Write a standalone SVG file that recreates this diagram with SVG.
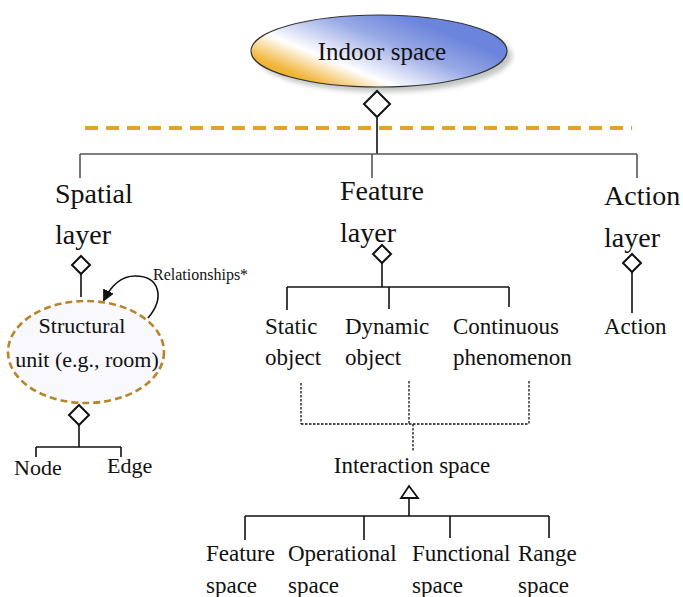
<svg xmlns="http://www.w3.org/2000/svg" width="683" height="597" viewBox="0 0 683 597">
<style>
  text { font-family: "Liberation Serif", "DejaVu Serif", "Times New Roman", serif; fill: #111; }
  .t28 { font-size: 28px; }
  .t23 { font-size: 23px; }
  .t22 { font-size: 22px; }
  .line { stroke: #111; stroke-width: 1.6; fill: none; }
  .gline { stroke: #555; stroke-width: 1.6; fill: none; }
  .dot { stroke: #111; stroke-width: 1.3; fill: none; stroke-dasharray: 2.5 1.5; }
  .dia { fill: #fff; stroke: #111; stroke-width: 2; }
</style>
<defs>
  <linearGradient id="topGrad" gradientUnits="userSpaceOnUse" x1="313" y1="101" x2="364" y2="-23">
    <stop offset="0" stop-color="#eda51f"/>
    <stop offset="0.14" stop-color="#f2b73e"/>
    <stop offset="0.33" stop-color="#ffffff"/>
    <stop offset="0.62" stop-color="#9aaae6"/>
    <stop offset="0.85" stop-color="#6b84dc"/>
    <stop offset="1" stop-color="#6b84dc"/>
  </linearGradient>
  <filter id="shadow" x="-20%" y="-30%" width="140%" height="170%">
    <feGaussianBlur stdDeviation="2.5"/>
  </filter>
  <marker id="arrowFill" markerWidth="12" markerHeight="12" refX="10" refY="6" orient="auto" markerUnits="userSpaceOnUse">
    <path d="M0,0 L12,6 L0,12 Z" fill="#111"/>
  </marker>
</defs>

<!-- top node -->
<g id="indoor-space">
  <ellipse cx="384" cy="56" rx="128" ry="36" fill="#9aa09a" opacity="0.6" filter="url(#shadow)"/>
  <ellipse cx="379" cy="51" rx="128" ry="36" fill="url(#topGrad)" stroke="#333" stroke-width="1.2"/>
  <text x="382" y="60" style="font-size:25px" text-anchor="middle">Indoor space</text>
</g>

<!-- dashed separator -->
<line x1="85" y1="128" x2="632" y2="128" stroke="#e3a32a" stroke-width="4" stroke-dasharray="13 8"/>

<g id="connectors">
  <line class="line" x1="377" y1="118" x2="377" y2="154"/>
  <polygon class="dia" points="377,91 390,104 377,117 364,104"/>
  <line class="gline" x1="80" y1="154" x2="637" y2="154"/>
  <line class="gline" x1="80" y1="154" x2="80" y2="178"/>
  <line class="gline" x1="372" y1="154" x2="372" y2="178"/>
  <line class="gline" x1="637" y1="154" x2="637" y2="178"/>

  <polygon class="dia" points="81,256 90,265 81,274 72,265"/>
  <line class="line" x1="81" y1="274" x2="81" y2="297"/>
  <path class="line" d="M148,318 C165,298 160,276 135,276 C120,276 110,288 104,300" marker-end="url(#arrowFill)"/>
  <polygon class="dia" points="79,405 89,415 79,425 69,415"/>
  <line class="line" x1="79" y1="425" x2="79" y2="447"/>
  <line class="line" x1="36" y1="447" x2="121" y2="447"/>
  <line class="line" x1="36" y1="447" x2="36" y2="457"/>
  <line class="line" x1="121" y1="447" x2="121" y2="457"/>

  <polygon class="dia" points="382,245 391,254 382,263 373,254"/>
  <line class="line" x1="382" y1="263" x2="382" y2="287"/>
  <line class="line" x1="287" y1="287" x2="509" y2="287"/>
  <line class="line" x1="287" y1="287" x2="287" y2="310"/>
  <line class="line" x1="389" y1="287" x2="389" y2="309"/>
  <line class="line" x1="509" y1="287" x2="509" y2="307"/>

  <line class="dot" x1="301" y1="383" x2="301" y2="424"/>
  <line class="dot" x1="409" y1="381" x2="409" y2="424"/>
  <line class="dot" x1="529" y1="381" x2="529" y2="424"/>
  <line class="dot" x1="301" y1="424" x2="529" y2="424"/>
  <line class="dot" x1="413" y1="424" x2="413" y2="452"/>

  <polygon points="409,486 418,498 401,498" fill="#fff" stroke="#111" stroke-width="1.8"/>
  <line class="line" x1="409" y1="498" x2="409" y2="516"/>
  <line class="line" x1="245" y1="516" x2="549" y2="516"/>
  <line class="line" x1="245" y1="516" x2="245" y2="540"/>
  <line class="line" x1="364" y1="516" x2="364" y2="540"/>
  <line class="line" x1="450" y1="516" x2="450" y2="538"/>
  <line class="line" x1="549" y1="516" x2="549" y2="538"/>

  <polygon class="dia" points="632,254 641,263 632,272 623,263"/>
  <line class="line" x1="632" y1="272" x2="632" y2="313"/>
</g>

<g id="spatial-layer">
  <text x="55" y="203" class="t28">Spatial</text>
  <text x="55" y="244" class="t28">layer</text>
</g>
<g id="feature-layer">
  <text x="340" y="200" class="t28">Feature</text>
  <text x="340" y="242" class="t28">layer</text>
</g>
<g id="action-layer">
  <text x="604" y="205" class="t28">Action</text>
  <text x="604" y="247" class="t28">layer</text>
</g>

<g id="structural-unit">
  <ellipse cx="86" cy="352" rx="78" ry="51" fill="#f8f8fd" stroke="#b8862a" stroke-width="2.6" stroke-dasharray="7 4"/>
  <text x="82" y="333" class="t22" text-anchor="middle">Structural</text>
  <text x="87" y="367" class="t22" text-anchor="middle">unit (e.g., room)</text>
</g>
<g id="relationships-label">
  <text x="153" y="280" style="font-size:16px">Relationships*</text>
</g>
<g id="node"><text x="14" y="475" class="t22">Node</text></g>
<g id="edge"><text x="107" y="473" class="t22">Edge</text></g>

<g id="static-object">
  <text x="265" y="334" class="t23">Static</text>
  <text x="265" y="365" class="t23">object</text>
</g>
<g id="dynamic-object">
  <text x="345" y="334" class="t23">Dynamic</text>
  <text x="345" y="365" class="t23">object</text>
</g>
<g id="continuous-phenomenon">
  <text x="453" y="334" class="t23">Continuous</text>
  <text x="453" y="365" class="t23">phenomenon</text>
</g>
<g id="action"><text x="604" y="334" class="t23">Action</text></g>

<g id="interaction-space"><text x="412" y="473" class="t23" text-anchor="middle">Interaction space</text></g>

<g id="feature-space">
  <text x="206" y="561" class="t23">Feature</text>
  <text x="206" y="593" class="t23">space</text>
</g>
<g id="operational-space">
  <text x="288" y="561" class="t23">Operational</text>
  <text x="288" y="593" class="t23">space</text>
</g>
<g id="functional-space">
  <text x="412" y="561" class="t23">Functional</text>
  <text x="412" y="593" class="t23">space</text>
</g>
<g id="range-space">
  <text x="518" y="561" class="t23">Range</text>
  <text x="518" y="593" class="t23">space</text>
</g>
</svg>
